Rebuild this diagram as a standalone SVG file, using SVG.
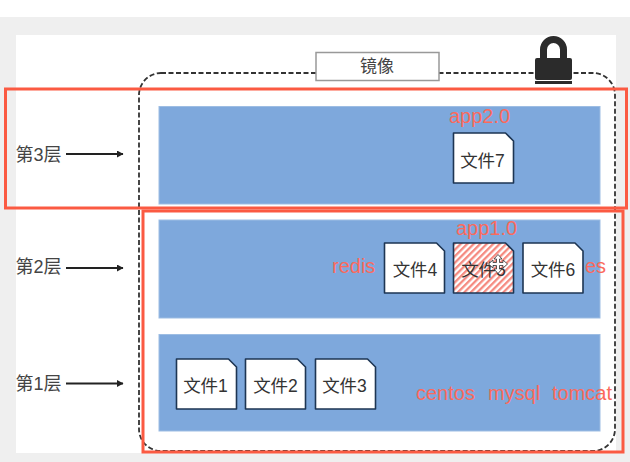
<svg xmlns="http://www.w3.org/2000/svg" width="630" height="462" viewBox="0 0 630 462">
<style>
text{font-family:"Liberation Sans","Noto Sans CJK SC",sans-serif}
.lay{fill:#7ea8dc;stroke:#9dbde3;stroke-width:1}
.file{stroke:#1d3553;stroke-width:1.6;stroke-linejoin:round}
.ft{font-size:17.500px;fill:#333;text-anchor:middle}
.lab{font-size:18px;fill:#444}
.red{font-size:20px;fill:#fb6a5c}
.rb{fill:none;stroke:#fb5a42;stroke-width:3}
.con{stroke:#222;stroke-width:2;fill:none;marker-end:url(#ah)}
</style>
<defs>
<marker id="ah" markerUnits="userSpaceOnUse" markerWidth="7" markerHeight="7" refX="6" refY="3.5" orient="auto"><path d="M0 0L6.500 3.500L0 7Z" fill="#222"/></marker>
<pattern id="hatch" patternUnits="userSpaceOnUse" width="4.600" height="4.600" patternTransform="rotate(-45)"><rect width="4.600" height="4.600" fill="#fff"/><rect width="4.600" height="2.300" fill="#f58a80"/></pattern>
<path id="doc" d="M0 0H52L60 8V50H0Z"/>
</defs>
<rect width="630" height="462" fill="#fff"/>
<path d="M0 17H630V462H0ZM16 35V453H616V35Z" fill="#efefef" fill-rule="evenodd"/>
<g id="image-frame"><rect x="139" y="73" width="476" height="378" rx="22" fill="none" stroke="#333" stroke-width="1.800" stroke-dasharray="5 2.500"/></g>
<g id="image-label"><rect x="316" y="52.500" width="123" height="28" fill="#fff" stroke="#999" stroke-width="1.500"/><text x="377" y="72" font-size="17" fill="#444" text-anchor="middle">镜像</text></g>
<g id="lock">
<path d="M543.500 60V49.500a10 10 0 0 1 20 0V60" fill="none" stroke="#2b2b2b" stroke-width="7"/>
<rect x="535" y="58" width="37" height="22" rx="2" fill="#2b2b2b"/><rect x="535" y="81" width="37" height="3" fill="#2b2b2b"/>
</g>
<g id="layer3"><rect class="lay" x="159" y="106.500" width="441" height="97.500"/></g>
<g id="layer2"><rect class="lay" x="159" y="220" width="441" height="98"/></g>
<g id="layer1"><rect class="lay" x="159" y="334.500" width="441" height="96.500"/></g>
<g id="file7"><use href="#doc" x="453.500" y="133" class="file" fill="#fff"/><text class="ft" x="482.500" y="167">文件7</text></g>
<g id="file4"><use href="#doc" x="384.500" y="243" class="file" fill="#fff"/><text class="ft" x="415" y="276">文件4</text></g>
<g id="file5"><use href="#doc" x="453.500" y="243" class="file" fill="url(#hatch)"/><text class="ft" x="483.500" y="276">文件5</text></g>
<g id="file6"><use href="#doc" x="523" y="243" class="file" fill="#fff"/><text class="ft" x="553" y="276">文件6</text></g>
<g id="file1"><use href="#doc" x="176.500" y="359" class="file" fill="#fff"/><text class="ft" x="205.500" y="392">文件1</text></g>
<g id="file2"><use href="#doc" x="245.500" y="359" class="file" fill="#fff"/><text class="ft" x="275.500" y="392">文件2</text></g>
<g id="file3"><use href="#doc" x="315.500" y="359" class="file" fill="#fff"/><text class="ft" x="344.500" y="392">文件3</text></g>
<g id="labels">
<text class="lab" x="15.500" y="160.500">第3层</text>
<text class="lab" x="15.500" y="272.500">第2层</text>
<text class="lab" x="15.500" y="389.500">第1层</text>
</g>
<g id="connectors">
<path class="con" d="M66 154H123"/>
<path class="con" d="M66 268H123"/>
<path class="con" d="M66 383.500H123"/>
</g>
<g id="annotations">
<rect class="rb" x="5.500" y="89" width="621" height="119"/>
<rect class="rb" x="143" y="211" width="480" height="241"/>
<text class="red" x="449" y="123">app2.0</text>
<text class="red" x="456" y="235">app1.0</text>
<text class="red" x="332" y="273">redis</text>
<text class="red" x="585" y="273">es</text>
<text class="red" x="416" y="400">centos</text>
<text class="red" x="488" y="400">mysql</text>
<text class="red" x="552" y="400">tomcat</text>
</g>
<g id="cursor"><path d="M498 254.500l4 4.500h-2.500v3.500h3.500v-2.500l4.500 4-4.500 4v-2.500h-3.500v3.500h2.500l-4 4.500-4-4.500h2.500v-3.500h-3.500v2.500l-4.500-4 4.500-4v2.500h3.500v-3.500h-2.500Z" fill="#fff" stroke="#333" stroke-width="0.800"/></g>
</svg>
